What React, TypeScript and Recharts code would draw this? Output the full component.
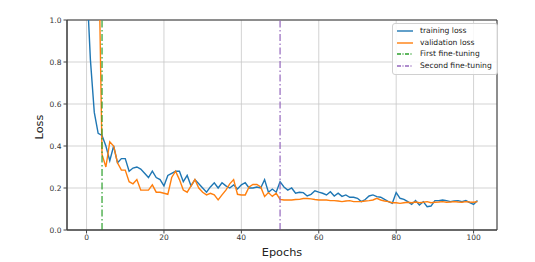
import React from 'react';
import {
  LineChart,
  Line,
  XAxis,
  YAxis,
  CartesianGrid,
  ReferenceLine,
  ReferenceArea,
} from 'recharts';

// values (one per epoch, 0..101)
const trainingLoss = [
  1.2, 0.81, 0.56, 0.46, 0.45, 0.4, 0.33, 0.4, 0.32, 0.34,
  0.34, 0.28, 0.295, 0.3, 0.29, 0.27, 0.25, 0.28, 0.25, 0.24,
  0.21, 0.26, 0.27, 0.28, 0.28, 0.23, 0.26, 0.21, 0.24, 0.22,
  0.2, 0.18, 0.205, 0.225, 0.2, 0.225, 0.21, 0.2, 0.215, 0.195,
  0.215, 0.225, 0.2, 0.2, 0.205, 0.2, 0.24, 0.18, 0.195, 0.18,
  0.23, 0.205, 0.19, 0.2, 0.175, 0.18, 0.178, 0.162, 0.17, 0.187,
  0.18, 0.175, 0.167, 0.182, 0.162, 0.175, 0.16, 0.167, 0.156, 0.156,
  0.151, 0.135, 0.145, 0.162, 0.167, 0.159, 0.156, 0.146, 0.135, 0.127,
  0.178, 0.151, 0.146, 0.135, 0.122, 0.14, 0.119, 0.135, 0.111, 0.114,
  0.14, 0.14, 0.143, 0.14, 0.135, 0.138, 0.14, 0.135, 0.14, 0.13,
  0.122, 0.14,
];

const validationLoss = [
  2.4, 2.1, 1.8, 1.5, 0.36, 0.3, 0.42, 0.4, 0.32, 0.285,
  0.285, 0.23, 0.22, 0.24, 0.19, 0.19, 0.19, 0.215, 0.18, 0.18,
  0.175, 0.17, 0.25, 0.28, 0.24, 0.19, 0.18, 0.21, 0.24, 0.2,
  0.18, 0.167, 0.175, 0.167, 0.143, 0.167, 0.19, 0.22, 0.24, 0.17,
  0.167, 0.167, 0.205, 0.217, 0.217, 0.205, 0.16, 0.178, 0.16, 0.175,
  0.146, 0.143, 0.143, 0.143, 0.145, 0.146, 0.15, 0.15, 0.148, 0.145,
  0.143, 0.143, 0.143, 0.14, 0.14, 0.138, 0.135, 0.138, 0.14, 0.135,
  0.135, 0.135, 0.138, 0.14, 0.143, 0.151, 0.143, 0.138, 0.135, 0.13,
  0.13, 0.127, 0.13, 0.132, 0.13, 0.133, 0.13, 0.132, 0.135, 0.13,
  0.132, 0.133, 0.135, 0.132, 0.133, 0.135, 0.133, 0.132, 0.135, 0.133,
  0.132, 0.135,
];

const xTicks = [0, 20, 40, 60, 80, 100];
const yTicks = [0, 0.2, 0.4, 0.6, 0.8, 1.0];
const firstFineTuning = 4;
const secondFineTuning = 50;

const legendItems = [
  { label: 'training loss', color: '#1f77b4', dash: undefined },
  { label: 'validation loss', color: '#ff7f0e', dash: undefined },
  { label: 'First fine-tuning', color: '#2ca02c', dash: '4 1.5 1 1.5' },
  { label: 'Second fine-tuning', color: '#9467bd', dash: '4 1.5 1 1.5' },
];

const data = trainingLoss.map((v, i) => ({
  epoch: i,
  train: v,
  val: validationLoss[i],
}));

const font = 'DejaVu Sans, sans-serif';

const LegendBox = () => (
  <div
    style={{
      position: 'absolute',
      left: 392,
      top: 23,
      border: '1px solid #d0d0d0',
      borderRadius: 3,
      background: 'rgba(255,255,255,0.85)',
      padding: '1px 5px 2px 3px',
      fontFamily: font,
      fontSize: 7.6,
      color: '#222',
      lineHeight: '11.7px',
    }}
  >
    {legendItems.map((it) => (
      <div key={it.label} style={{ display: 'flex', alignItems: 'center' }}>
        <svg width={20} height={6} style={{ marginRight: 4 }}>
          <line
            x1={1}
            y1={3}
            x2={17}
            y2={3}
            stroke={it.color}
            strokeWidth={1.4}
            strokeDasharray={it.dash}
          />
        </svg>
        <span>{it.label}</span>
      </div>
    ))}
  </div>
);

export default function App() {
  return (
    <div style={{ position: 'absolute', left: 0, top: 0, width: 535, height: 262, background: '#fff' }}>
      <LineChart
        width={535}
        height={262}
        data={data}
        margin={{ top: 20, right: 38, bottom: 0, left: 0 }}
      >
        <CartesianGrid stroke="#c8c8c8" strokeWidth={0.8} />
        <XAxis
          dataKey="epoch"
          type="number"
          domain={[-5.05, 106.05]}
          ticks={xTicks}
          allowDataOverflow
          height={32}
          tickSize={3.5}
          tickMargin={1}
          tickLine={{ stroke: '#444' }}
          axisLine={{ stroke: '#444' }}
          tick={{ fontSize: 7.5, fill: '#333', fontFamily: font }}
          label={({ viewBox }: any) => (
            <text
              x={viewBox.x + viewBox.width / 2}
              y={viewBox.y + 22}
              textAnchor="middle"
              dominantBaseline="central"
              fontSize={11.3}
              fontFamily={font}
              fill="#222"
            >
              Epochs
            </text>
          )}
        />
        <YAxis
          type="number"
          domain={[0, 1]}
          ticks={yTicks}
          allowDataOverflow
          width={67}
          tickSize={3.5}
          tickMargin={2}
          tickLine={{ stroke: '#444' }}
          axisLine={{ stroke: '#444' }}
          tickFormatter={(v: number) => v.toFixed(1)}
          tick={{ fontSize: 7.5, fill: '#333', fontFamily: font }}
          label={({ viewBox }: any) => {
            const cx = viewBox.x + 39;
            const cy = viewBox.y + viewBox.height / 2 + 2;
            return (
              <text
                x={cx}
                y={cy}
                transform={`rotate(-90 ${cx} ${cy})`}
                textAnchor="middle"
                dominantBaseline="central"
                fontSize={11.3}
                fontFamily={font}
                fill="#222"
              >
                Loss
              </text>
            );
          }}
        />
        <Line
          type="linear"
          dataKey="train"
          stroke="#1f77b4"
          strokeWidth={1.4}
          dot={false}
          isAnimationActive={false}
        />
        <Line
          type="linear"
          dataKey="val"
          stroke="#ff7f0e"
          strokeWidth={1.4}
          dot={false}
          isAnimationActive={false}
        />
        <ReferenceLine
          x={firstFineTuning}
          stroke="#2ca02c"
          strokeWidth={1.2}
          strokeDasharray="7 2.5 1.5 2.5"
        />
        <ReferenceLine
          x={secondFineTuning}
          stroke="#9467bd"
          strokeWidth={1.2}
          strokeDasharray="7 2.5 1.5 2.5"
        />
        <ReferenceArea
          x1={-5.05}
          x2={106.05}
          y1={0}
          y2={1}
          fill="none"
          stroke="#333"
          strokeWidth={1}
        />
      </LineChart>
      <LegendBox />
    </div>
  );
}
